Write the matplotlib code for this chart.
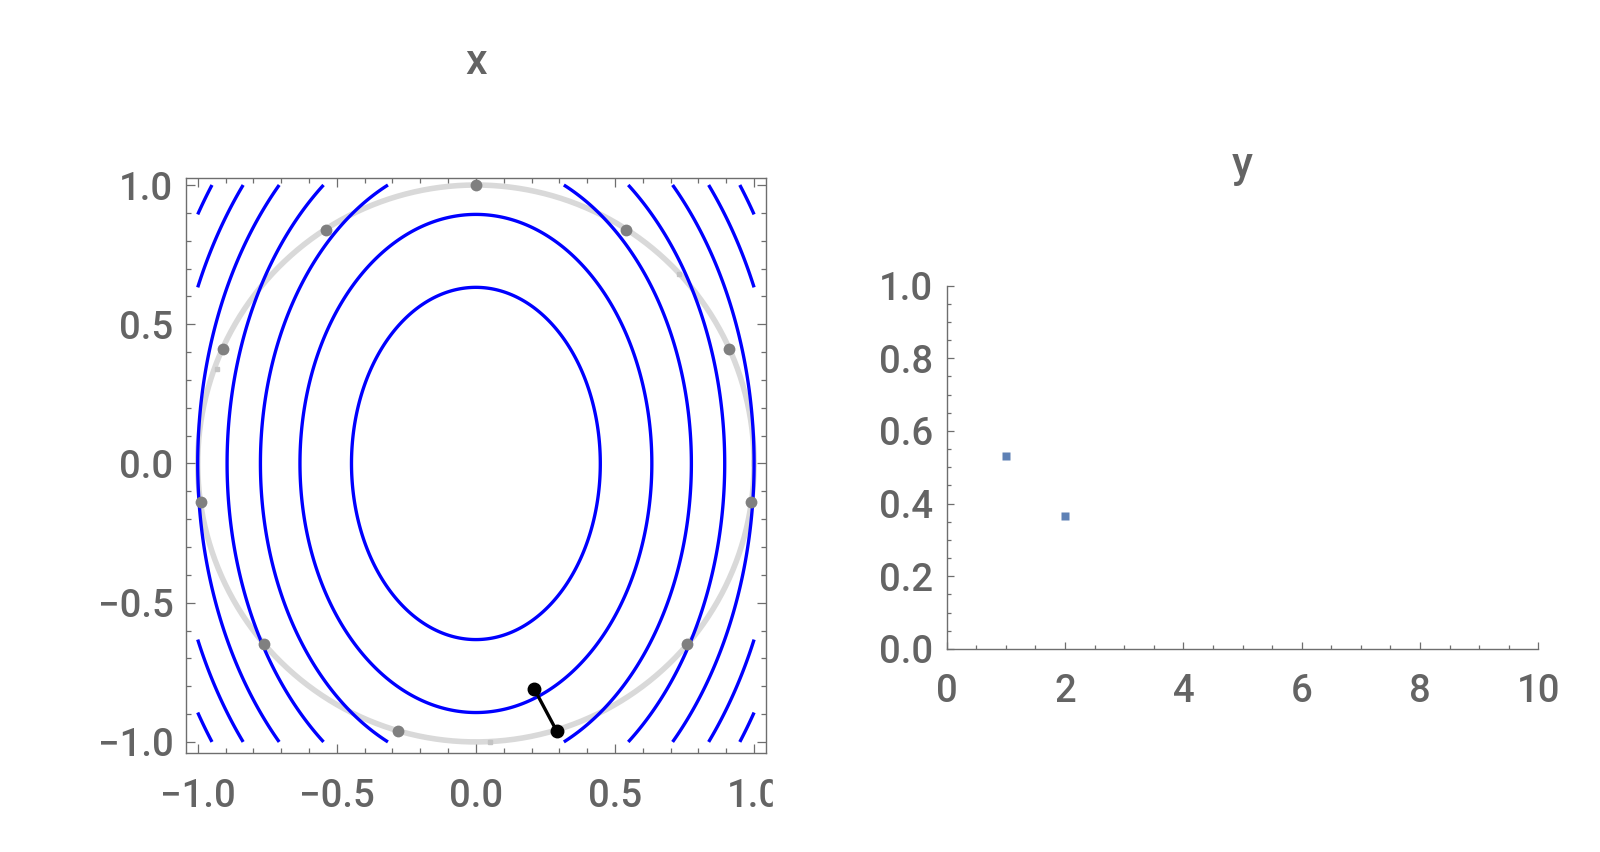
import numpy as np
import matplotlib
matplotlib.use("Agg")
import matplotlib.pyplot as plt
from matplotlib.patches import Rectangle
from matplotlib.ticker import MultipleLocator

plt.rcParams['font.family'] = ['Roboto', 'DejaVu Sans']

# niveles de las curvas de nivel de f(x, y) = 2x^2 + y^2
niveles = [0.4, 0.8, 1.2, 1.6, 2.0, 2.4, 2.8]

# puntos grises sobre la circunferencia
gris_x = [0.0, -0.54, -0.91, -0.99, -0.76, -0.28, 0.76, 0.99, 0.91, 0.54]
gris_y = [1.0, 0.84, 0.41, -0.14, -0.65, -0.96, -0.65, -0.14, 0.41, 0.84]
# marcas pequeñas sobre la circunferencia
marca_x = [0.73, -0.93, 0.05]
marca_y = [0.68, 0.34, -1.0]
# segmento negro
negro_x = [0.21, 0.29]
negro_y = [-0.81, -0.96]

# panel derecho
y_x = [1, 2]
y_vals = [0.53, 0.366]

GRIS_TXT = '#646464'
GRIS_EJE = '#6e6e6e'
TAM = 27.5
PESO = 'medium'

fig = plt.figure(figsize=(16, 8.52), dpi=100)

# ---- panel izquierdo ----
ax = fig.add_axes([0.1161, 0.1158, 0.3625, 0.6749])
xs = np.linspace(-1, 1, 501)
X, Y = np.meshgrid(xs, xs)
Z = 2 * X**2 + Y**2
t = np.linspace(0, 2 * np.pi, 400)
ax.plot(np.cos(t), np.sin(t), color='#d9d9d9', lw=4, zorder=1)
ax.contour(X, Y, Z, levels=niveles, colors='#0000ff', linewidths=2.4, zorder=2)
ax.plot(marca_x, marca_y, 's', color='#c4c4c4', ms=3, zorder=3)
ax.plot(gris_x, gris_y, 'o', color='#808080', ms=8.5, mec='none', zorder=4)
ax.plot(negro_x, negro_y, 'o-', color='black', lw=2.4, ms=9, zorder=5)
ax.set_xlim(-1.043, 1.042)
ax.set_ylim(-1.041, 1.024)
for s in ax.spines.values():
    s.set_color(GRIS_EJE)
    s.set_linewidth(1.0)
ax.xaxis.set_major_locator(MultipleLocator(0.5))
ax.yaxis.set_major_locator(MultipleLocator(0.5))
ax.xaxis.set_minor_locator(MultipleLocator(0.1))
ax.yaxis.set_minor_locator(MultipleLocator(0.1))
ax.xaxis.set_major_formatter(lambda v, p: f"{v:.1f}".replace('-', '\u2212'))
ax.yaxis.set_major_formatter(lambda v, p: f"{v:.1f}".replace('-', '\u2212'))
ax.tick_params(which='both', direction='in', top=True, right=True,
               color=GRIS_EJE, labelcolor=GRIS_TXT, labelsize=TAM, width=0.9)
ax.tick_params(which='major', length=6.5)
ax.tick_params(axis='y', which='major', pad=9)
ax.tick_params(axis='x', which='major', pad=18)
ax.tick_params(which='minor', length=3.5)
for lab in ax.get_xticklabels() + ax.get_yticklabels():
    lab.set_fontweight(PESO)
fig.text(0.2973, 1 - 74 / 852, 'x', ha='center', va='baseline',
         fontsize=31, fontweight=PESO, color=GRIS_TXT)

# el "1.0" de abajo queda cortado en el original
fig.add_artist(Rectangle((773.3 / 1600, 0.0), 0.06, 90 / 852,
                         transform=fig.transFigure, color='white', zorder=10))

# ---- panel derecho ----
ax2 = fig.add_axes([0.5917, 0.2383, 0.3698, 0.4264])
ax2.plot(y_x, y_vals, 's', color='#5e81b5', ms=6, mec='none', clip_on=False)
ax2.set_xlim(0, 10)
ax2.set_ylim(0, 1)
ax2.spines['top'].set_visible(False)
ax2.spines['right'].set_visible(False)
for s in ['left', 'bottom']:
    ax2.spines[s].set_color(GRIS_EJE)
    ax2.spines[s].set_linewidth(1.0)
ax2.xaxis.set_major_locator(MultipleLocator(2))
ax2.xaxis.set_minor_locator(MultipleLocator(0.5))
ax2.yaxis.set_major_locator(MultipleLocator(0.2))
ax2.yaxis.set_minor_locator(MultipleLocator(0.05))
ax2.xaxis.set_major_formatter(lambda v, p: f"{v:.0f}")
ax2.yaxis.set_major_formatter(lambda v, p: f"{v:.1f}")
ax2.tick_params(which='both', direction='in', color=GRIS_EJE,
                labelcolor=GRIS_TXT, labelsize=TAM, width=0.9)
ax2.tick_params(which='major', length=5)
ax2.tick_params(axis='y', which='major', pad=10)
ax2.tick_params(axis='x', which='major', pad=17)
ax2.tick_params(which='minor', length=3)
for lab in ax2.get_xticklabels() + ax2.get_yticklabels():
    lab.set_fontweight(PESO)
fig.text(0.7761, 1 - 177 / 852, 'y', ha='center', va='baseline',
         fontsize=31, fontweight=PESO, color=GRIS_TXT)

fig.savefig('out.png', dpi=100)
